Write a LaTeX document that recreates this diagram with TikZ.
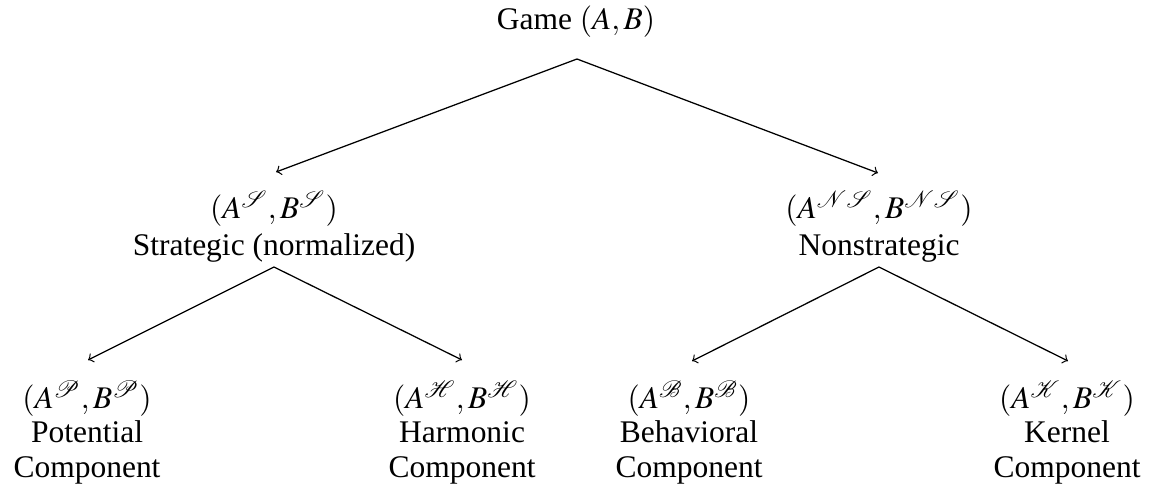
\documentclass[tikz,border=0pt]{standalone}
\usepackage{mathptmx}
\usepackage{mathrsfs}
\usepackage[no-math]{fontspec}
\setmainfont{Liberation Serif}
\begin{document}
\begin{tikzpicture}[x=0.381pt,y=-0.381pt,
  lbl/.style={align=center,font=\fontsize{12}{13}\selectfont,inner sep=0pt,anchor=base},
  arr/.style={->,line width=0.48pt}]
\useasboundingbox (0,0) rectangle (1151,495);
% nodes (anchor base = baseline of last line)
\node[lbl] (root) at (576,29) {Game $(A,B)$};
\node[lbl] (S) at (274,255) {$(A^{\mathscr{S}},B^{\mathscr{S}})$\\[0.8pt]Strategic (normalized)};
\node[lbl] (NS) at (879,255) {$(A^{\mathscr{N}\mathscr{S}},B^{\mathscr{N}\mathscr{S}})$\\[0.8pt]Nonstrategic};
\node[lbl] (P) at (87,477) {$(A^{\mathscr{P}},B^{\mathscr{P}})$\\Potential\\Component};
\node[lbl] (H) at (462,477) {$(A^{\mathscr{H}},B^{\mathscr{H}})$\\Harmonic\\Component};
\node[lbl] (B) at (689,477) {$(A^{\mathscr{B}},B^{\mathscr{B}})$\\Behavioral\\Component};
\node[lbl] (K) at (1067,477) {$(A^{\mathscr{K}},B^{\mathscr{K}})$\\Kernel\\Component};
% connector ends
\coordinate (rootApex) at (577,59);
\coordinate (STip) at (276,172);
\coordinate (NSTip) at (878,173);
\coordinate (SApex) at (274,267);
\coordinate (NSApex) at (879,267);
\coordinate (PTip) at (88,360);
\coordinate (HTip) at (462,360);
\coordinate (BTip) at (692,361);
\coordinate (KTip) at (1068,361);
% connectors
\draw[arr] (rootApex) -- (STip);
\draw[arr] (rootApex) -- (NSTip);
\draw[arr] (SApex) -- (PTip);
\draw[arr] (SApex) -- (HTip);
\draw[arr] (NSApex) -- (BTip);
\draw[arr] (NSApex) -- (KTip);
\end{tikzpicture}
\end{document}
